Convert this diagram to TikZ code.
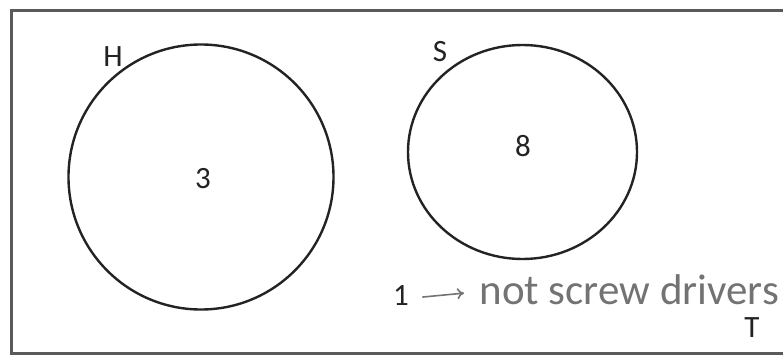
\documentclass[tikz,border=0pt]{standalone}
\usepackage{fontspec}
\setmainfont{Carlito}
\usepackage{tikz}
\usetikzlibrary{arrows.meta,positioning,shapes.geometric}
\definecolor{vnframe}{RGB}{90,90,90}
\definecolor{vnline}{RGB}{35,35,35}
\definecolor{vnpencil}{RGB}{115,115,115}

\tikzset{
  setlabel/.style={font=\fontsize{31}{33}\selectfont, text=vnline},
  setring/.style={draw=vnline, line width=2.4pt, inner sep=0pt},
}

\begin{document}
\begin{tikzpicture}[x=1pt, y=-1pt]
  \useasboundingbox (0,0) rectangle (783,356);
  % Universal set T (right side runs off the page)
  \draw[vnframe, line width=3pt] (795,10) -- (11,10) -- (11,353) -- (795,353);
  \node[setlabel] (labT) at (752,328) {T};
  % Set H
  \node[setring, circle, minimum size=265pt] (setH) at (201,177) {};
  \node[setlabel] (labH) at (113,57) {H};
  \node[setlabel] (numH) at (203,179) {3};
  % Set S
  \node[setring, ellipse, minimum width=229pt, minimum height=214pt] (setS) at (522.5,152) {};
  \node[setlabel] (labS) at (440,52) {S};
  \node[setlabel] (numS) at (523,146) {8};
  % Outside both sets
  \node[setlabel] (numOut) at (401,296) {1};
  \node[font=\fontsize{43}{45}\selectfont, text=vnpencil, anchor=west] (note) at (476,290) {not screw drivers};
  \draw[-{To[length=7pt,width=11pt]}, vnpencil, line width=1.6pt, shorten <=10pt, shorten >=12pt]
    ([yshift=-2pt]numOut.east) -- ([yshift=-2pt]note.west);
\end{tikzpicture}
\end{document}
